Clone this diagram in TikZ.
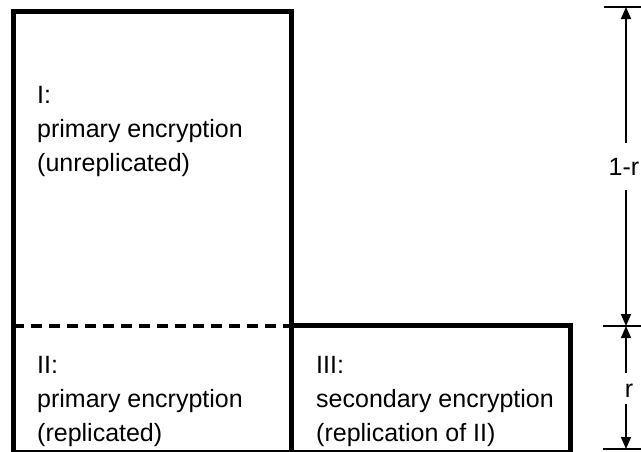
\documentclass[tikz,border=0pt]{standalone}
\usepackage{fontspec}
\setmainfont{Liberation Sans}
\usetikzlibrary{arrows.meta}

\begin{document}
\begin{tikzpicture}[
  x=1pt, y=-1pt,
  wall/.style = {line width=5pt},
  split/.style = {line width=4.5pt, dash pattern=on 11pt off 7pt},
  tick/.style = {line width=1.8pt},
  dimarrow/.style = {line width=1.6pt, -{Triangle[width=10pt,length=12pt]}},
  region/.style = {align=left, anchor=base west, inner sep=0pt, font=\fontsize{25}{34}\selectfont},
  dimlabel/.style = {font=\fontsize{25}{34}\selectfont, text height=17pt, text depth=0pt, inner xsep=0pt, anchor=base}
]
  \useasboundingbox (0,0) rectangle (641,451);

  % corners of the blocks
  \coordinate (Itl) at (13,11);
  \coordinate (Ibr) at (291,452.5);
  \coordinate (IIItl) at (291,325);
  \coordinate (IIIbr) at (570,452.5);

  % tall block (I over II)
  \draw[wall] (Itl) rectangle (Ibr);

  % block III
  \draw[wall] (IIItl) rectangle (IIIbr);

  % border between I and II
  \coordinate (splitL) at (13,326);
  \coordinate (splitR) at (291,326);
  \draw[split] (splitL) -- (splitR);

  % region texts (anchored at the last line)
  \node[region] (regI) at (37,171) {I:\\primary encryption\\(unreplicated)};
  \node[region] (regII) at (37,441) {II:\\primary encryption\\(replicated)};
  \node[region] (regIII) at (316,441) {III:\\secondary encryption\\(replication of II)};

  % dimension ticks
  \coordinate (dtop) at (626,7);
  \coordinate (dmid) at (626,326);
  \coordinate (dbot) at (626,449);
  \draw[tick] ([xshift=-22pt]dtop) -- ([xshift=19pt]dtop);
  \draw[tick] ([xshift=-23pt]dmid) -- ([xshift=19pt]dmid);
  \draw[tick] ([xshift=-23pt]dbot) -- ([xshift=19pt]dbot);

  % 1-r
  \node[dimlabel, inner ysep=15pt] (lenA) at (624,175) {1-r};
  \draw[dimarrow] (lenA.north -| dtop) -- (dtop);
  \draw[dimarrow] (lenA.south -| dmid) -- (dmid);

  % r
  \node[dimlabel, inner ysep=7pt] (lenB) at (629,397) {r};
  \draw[dimarrow] (lenB.north -| dmid) -- (dmid);
  \draw[dimarrow] (lenB.south -| dbot) -- (dbot);

\end{tikzpicture}
\end{document}
